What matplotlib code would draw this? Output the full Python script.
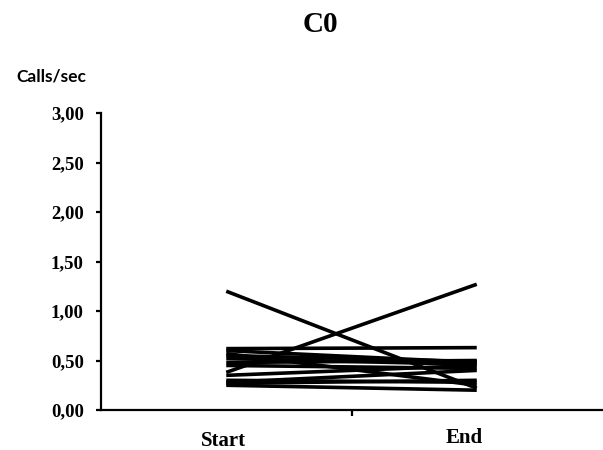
import matplotlib
matplotlib.use("Agg")
import matplotlib.pyplot as plt
import matplotlib.transforms as mtransforms

# Calls/sec per individual, at start and end
categories = ["Start", "End"]
start_vals = [1.20, 0.38, 0.62, 0.60, 0.57, 0.52, 0.48, 0.45, 0.35, 0.30, 0.27, 0.25, 0.28, 0.55]
end_vals = [0.22, 1.27, 0.63, 0.48, 0.25, 0.46, 0.50, 0.42, 0.45, 0.28, 0.30, 0.20, 0.40, 0.49]
y_ticks = [0.0, 0.5, 1.0, 1.5, 2.0, 2.5, 3.0]

SERIF = "Liberation Serif"

fig = plt.figure(figsize=(6.03, 4.5), dpi=100)
ax = fig.add_axes([101 / 603, 40 / 450, 501 / 603, 297 / 450])

for s, e in zip(start_vals, end_vals):
    ax.plot([0, 1], [s, e], color="black", lw=2.6, solid_capstyle="butt")

ax.set_xlim(-0.5, 1.5)
ax.set_ylim(0, 3)

for side in ("top", "right"):
    ax.spines[side].set_visible(False)
for side in ("left", "bottom"):
    ax.spines[side].set_linewidth(1.6)

ax.set_yticks(y_ticks)
ax.set_yticklabels([f"{v:.2f}".replace(".", ",") for v in y_ticks],
                   fontfamily=SERIF, fontweight="bold", fontsize=13.5)
ax.tick_params(axis="y", direction="out", length=3.5, width=1.6, pad=9)

ax.set_xticks([0, 1])
ax.set_xticklabels(categories, fontfamily=SERIF, fontweight="bold", fontsize=15)
ax.tick_params(axis="x", which="major", length=0, pad=14)
ax.set_xticks([0.5], minor=True)
ax.tick_params(axis="x", which="minor", direction="out", length=4, width=1.6)

# labels in the original are not centred under the lines
xl = ax.get_xticklabels()
xl[0].set_transform(xl[0].get_transform() + mtransforms.ScaledTranslation(-3 / 100, -2 / 100, fig.dpi_scale_trans))
xl[1].set_transform(xl[1].get_transform() + mtransforms.ScaledTranslation(-13 / 100, 1 / 100, fig.dpi_scale_trans))

fig.text(320 / 603, 1 - 24 / 450, "C0", ha="center", va="center",
         fontfamily=SERIF, fontweight="bold", fontsize=21)
fig.text(51 / 603, 1 - 76 / 450, "Calls/sec", ha="center", va="center",
         fontfamily="Lato", fontweight="bold", fontsize=12.5)

fig.savefig("out.png", dpi=100)
